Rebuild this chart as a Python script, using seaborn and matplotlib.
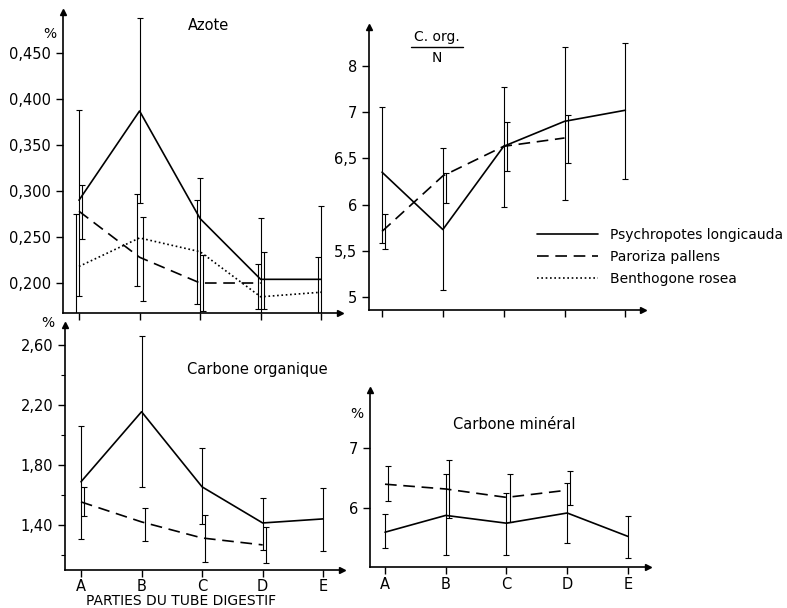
import numpy as np
import pandas as pd
import matplotlib
matplotlib.use("Agg")
import matplotlib.pyplot as plt
import seaborn as sns
from matplotlib.lines import Line2D

# Parties du tube digestif
parties = ["A", "B", "C", "D", "E"]

# --- Azote (%) ---
psy_azote = [0.290, 0.387, 0.270, 0.204, 0.204]
psy_azote_bas = [0.186, 0.287, 0.150, 0.137, 0.124]
psy_azote_haut = [0.388, 0.488, 0.314, 0.271, 0.284]
par_azote = [0.278, 0.228, 0.200, 0.200]
par_azote_bas = [0.248, 0.180, 0.170, 0.172]
par_azote_haut = [0.306, 0.272, 0.230, 0.234]
ben_azote = [0.218, 0.249, 0.234, 0.185, 0.190]
ben_azote_bas = [0.160, 0.197, 0.177, 0.172, 0.150]
ben_azote_haut = [0.275, 0.297, 0.290, 0.221, 0.228]

# --- C. org. / N ---
psy_cn = [6.35, 5.73, 6.63, 6.90, 7.02]
psy_cn_bas = [5.58, 5.08, 5.97, 6.05, 6.28]
psy_cn_haut = [7.06, 6.61, 7.27, 7.70, 7.75]
par_cn = [5.71, 6.31, 6.63, 6.72]
par_cn_bas = [5.52, 6.02, 6.36, 6.45]
par_cn_haut = [5.90, 6.34, 6.89, 6.97]

# --- Carbone organique (%) ---
psy_corg = [1.687, 2.153, 1.653, 1.413, 1.440]
psy_corg_bas = [1.307, 1.653, 1.407, 1.233, 1.227]
psy_corg_haut = [2.060, 2.660, 1.913, 1.580, 1.647]
par_corg = [1.553, 1.420, 1.313, 1.267]
par_corg_bas = [1.460, 1.293, 1.153, 1.147]
par_corg_haut = [1.653, 1.513, 1.467, 1.387]

# --- Carbone mineral (%) ---
psy_cmin = [5.60, 5.88, 5.75, 5.92, 5.53]
psy_cmin_bas = [5.33, 5.22, 5.22, 5.42, 5.17]
psy_cmin_haut = [5.90, 6.57, 6.25, 6.42, 5.87]
par_cmin = [6.40, 6.32, 6.18, 6.30]
par_cmin_bas = [6.12, 5.83, 5.77, 6.05]
par_cmin_haut = [6.70, 6.80, 6.57, 6.62]

especes = ["Psychropotes longicauda", "Paroriza pallens", "Benthogone rosea"]
styles = ["-", (0, (7, 4)), (0, (1, 1.6))]
decalage = [0.0, 0.05, -0.05]  # petit decalage des barres d'erreur

sns.set_style("ticks")
plt.rcParams["font.family"] = ["DejaVu Sans"]
plt.rcParams["text.color"] = "black"
plt.rcParams["xtick.color"] = "black"
plt.rcParams["ytick.color"] = "black"
plt.rcParams["axes.edgecolor"] = "black"

W, H = 787, 608
fig = plt.figure(figsize=(W / 100, H / 100), dpi=100)


def axe_px(gauche, haut, droite, bas):
    # position d'un axe a partir de pixels
    return fig.add_axes([gauche / W, 1 - bas / H, (droite - gauche) / W, (bas - haut) / H])


def panneau(ax, series, xlim, ylim):
    for i, (moy, bas, haut) in enumerate(series):
        n = len(moy)
        df = pd.DataFrame({"partie": np.arange(n), "valeur": moy})
        sns.lineplot(data=df, x="partie", y="valeur", ax=ax, color="black",
                     linewidth=1.2, linestyle=styles[i], label=especes[i])
        moy = np.array(moy)
        err = [moy - np.array(bas), np.array(haut) - moy]
        ax.errorbar(np.arange(n) + decalage[i], moy, yerr=err, fmt="none",
                    ecolor="black", elinewidth=0.8, capsize=2.5, capthick=0.8)
    ax.set_xlim(*xlim)
    ax.set_ylim(*ylim)
    ax.set_xlabel("")
    ax.set_ylabel("")
    ax.set_xticks(range(len(parties)))
    sns.despine(ax=ax)
    for s in ["left", "bottom"]:
        ax.spines[s].set_linewidth(1.2)
    ax.tick_params(direction="out", length=5, width=1, labelsize=10.5, colors="black")
    # fleches au bout des axes
    ax.plot(1, 0, ">k", markersize=5, transform=ax.transAxes, clip_on=False)
    ax.plot(0, 1, "^k", markersize=5, transform=ax.transAxes, clip_on=False)
    if ax.get_legend() is not None:
        ax.get_legend().remove()


# 1. Azote
ax1 = axe_px(63, 12, 340, 313)
panneau(ax1, [(psy_azote, psy_azote_bas, psy_azote_haut),
              (par_azote, par_azote_bas, par_azote_haut),
              (ben_azote, ben_azote_bas, ben_azote_haut)],
        (-0.264, 4.31), (0.1674, 0.4946))
ax1.set_yticks([0.20, 0.25, 0.30, 0.35, 0.40, 0.45])
ax1.set_yticklabels(["0,200", "0,250", "0,300", "0,350", "0,400", "0,450"])
ax1.set_xticklabels([])
ax1.text(0.45, 0.94, "Azote", transform=ax1.transAxes, fontsize=10.5)

# 2. C. org. / N
ax2 = axe_px(369, 27, 643, 310)
panneau(ax2, [(psy_cn, psy_cn_bas, psy_cn_haut),
              (par_cn, par_cn_bas, par_cn_haut)],
        (-0.214, 4.29), (4.86, 7.92))
ax2.set_yticks([5, 5.5, 6, 6.5, 7, 7.5])
ax2.set_yticklabels(["5", "5,5", "6", "6,5", "7", "8"])
ax2.set_xticklabels([])

# 3. Carbone organique
ax3 = axe_px(65, 325, 342, 570)
panneau(ax3, [(psy_corg, psy_corg_bas, psy_corg_haut),
              (par_corg, par_corg_bas, par_corg_haut)],
        (-0.264, 4.31), (1.10, 2.73))
ax3.set_yticks([1.40, 1.80, 2.20, 2.60])
ax3.set_yticklabels(["1,40", "1,80", "2,20", "2,60"])
ax3.set_yticks([1.2, 1.6, 2.0, 2.4], minor=True)
ax3.tick_params(which="minor", direction="out", length=3, width=0.8)
ax3.set_xticklabels(parties, fontsize=10.5)
ax3.tick_params(axis="x", pad=1.5)
ax3.text(0.44, 0.80, "Carbone organique", transform=ax3.transAxes, fontsize=10.5)

# 4. Carbone mineral
ax4 = axe_px(370, 390, 648, 567)
panneau(ax4, [(psy_cmin, psy_cmin_bas, psy_cmin_haut),
              (par_cmin, par_cmin_bas, par_cmin_haut)],
        (-0.247, 4.33), (5.02, 7.97))
ax4.set_yticks([6, 7])
ax4.set_yticklabels(["6", "7"])
ax4.set_xticklabels(parties, fontsize=10.5)
ax4.tick_params(axis="x", pad=2.5)
ax4.text(0.30, 0.78, "Carbone minéral", transform=ax4.transAxes, fontsize=10.5)

# Textes libres
fig.text(50 / W, 1 - 34 / H, "%", fontsize=10, ha="center", va="center")
fig.text(48 / W, 1 - 323 / H, "%", fontsize=10, ha="center", va="center")
fig.text(357 / W, 1 - 414 / H, "%", fontsize=10, ha="center", va="center")
fig.text(437 / W, 1 - 37 / H, "C. org.", fontsize=10, ha="center", va="center")
fig.text(437 / W, 1 - 58 / H, "N", fontsize=10, ha="center", va="center")
fig.add_artist(Line2D([411 / W, 463 / W], [1 - 47 / H, 1 - 47 / H], color="black", linewidth=1))
fig.text(181 / W, 1 - 601 / H, "PARTIES DU TUBE DIGESTIF", fontsize=10, ha="center", va="center")

# Legende
poignees = [Line2D([], [], color="black", linewidth=1.2, linestyle=s) for s in styles]
fig.legend(poignees, especes, loc="center left", bbox_to_anchor=(524 / W, 1 - 257 / H),
           frameon=False, fontsize=10, handlelength=4.4, labelspacing=0.6, handletextpad=0.9)

fig.savefig("out.png", dpi=100)
